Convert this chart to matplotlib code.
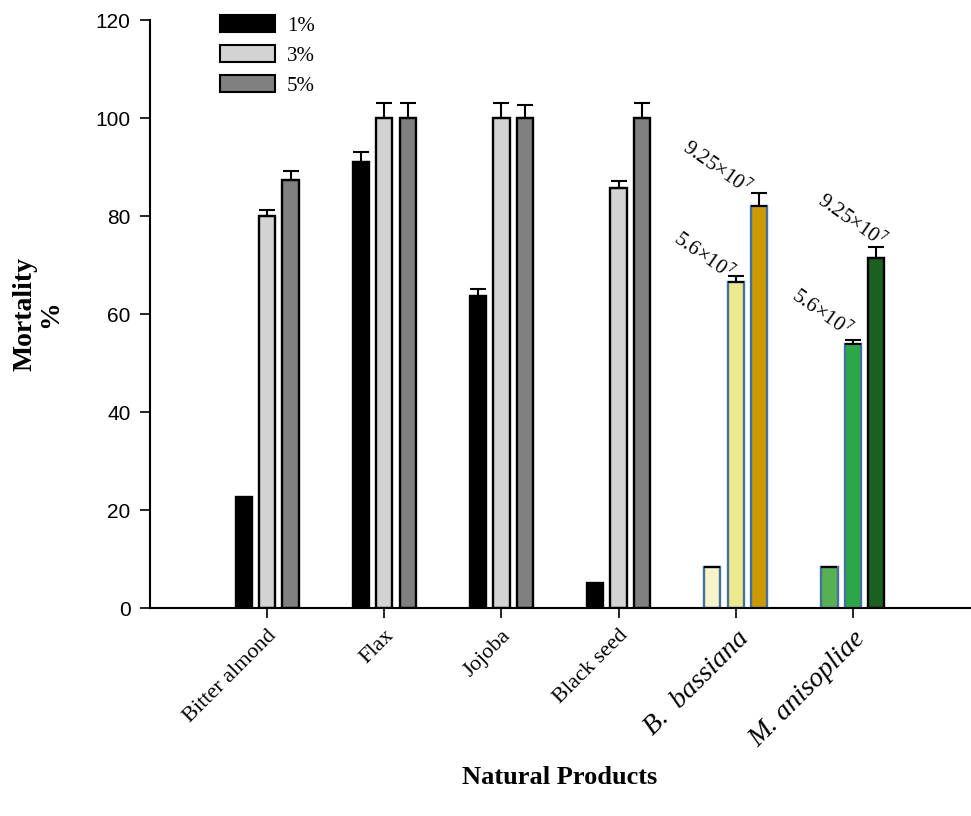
import matplotlib
matplotlib.use("Agg")
import matplotlib.pyplot as plt
import numpy as np
from matplotlib.patches import Patch

categories = ["Bitter almond", "Flax", "Jojoba", "Black seed", "B.  bassiana", "M. anisopliae"]
series_labels = ["1%", "3%", "5%"]
vals_1 = [22.6, 91.0, 63.7, 5.2, 8.3, 8.3]
vals_3 = [80.1, 100.0, 100.0, 85.7, 66.5, 53.9]
vals_5 = [87.4, 100.0, 100.0, 100.0, 82.0, 71.4]
err_1 = [np.nan, 2.0, 1.4, np.nan, 0.0, 0.0]
err_3 = [1.2, 3.0, 3.0, 1.4, 1.2, 0.8]
err_5 = [1.7, 3.0, 2.7, 3.0, 2.7, 2.3]
annot_text = ["5.6×10$^{7}$", "9.25×10$^{7}$"]

plt.rcParams['mathtext.fontset'] = 'stix'
serif = ['Liberation Serif', 'DejaVu Serif']

fig = plt.figure(figsize=(9.71, 8.16), dpi=100)
ax = fig.add_axes([150/971, 1-608/816, 820/971, 588/816])

x = np.arange(len(categories))
w = 0.14
off = 0.2

face_1 = ['black']*4 + ['#F6F3C9', '#57B152']
face_3 = ['#D3D3D3']*4 + ['#EDE98F', '#2BA845']
face_5 = ['#808080']*4 + ['#CC9900', '#1A6021']
edge_1 = ['black']*4 + ['#41719C', '#41719C']
edge_3 = ['black']*4 + ['#41719C', '#41719C']
edge_5 = ['black']*4 + ['#41719C', 'black']

series = [(vals_1, err_1, face_1, edge_1, -off),
          (vals_3, err_3, face_3, edge_3, 0.0),
          (vals_5, err_5, face_5, edge_5, off)]

for i, (vals, errs, faces, edges, o) in enumerate(series):
    ax.bar(x + o, vals, width=w, color=faces, edgecolor=edges, linewidth=1.7, zorder=2)
    for xi, v, e in zip(x, vals, errs):
        if not np.isnan(e):
            ax.errorbar(xi + o, v, yerr=[[0], [e]], fmt='none', ecolor='black',
                        elinewidth=1.5, capsize=5.5, capthick=1.5, zorder=3)

handles = [Patch(facecolor='black', edgecolor='black', linewidth=1.5),
           Patch(facecolor='#D3D3D3', edgecolor='black', linewidth=1.5),
           Patch(facecolor='#808080', edgecolor='black', linewidth=1.5)]
fig.legend(handles, series_labels, loc='upper left', bbox_to_anchor=(212/971, 1-7/816),
           frameon=False, prop={'family': serif, 'size': 15}, handlelength=2.6,
           handleheight=0.85, labelspacing=0.45, handletextpad=0.6, borderaxespad=0)

for ci in [4, 5]:
    for vals, errs, o, txt, (dx, dy) in [(vals_3, err_3, 0.0, annot_text[0], (-32, 20) if ci == 4 else (-32, 27)),
                                         (vals_5, err_5, off, annot_text[1], (-43, 25) if ci == 4 else (-25, 26))]:
        ax.annotate(txt, xy=(x[ci] + o, vals[ci] + errs[ci]), xytext=(dx, dy),
                    textcoords='offset pixels', ha='center', va='center', rotation=-35,
                    rotation_mode='anchor', fontsize=15, family=serif)

ax.set_xlim(-1, 6.0)
ax.set_ylim(0, 120)
ax.set_yticks([0, 20, 40, 60, 80, 100, 120])
ax.tick_params(axis='y', labelsize=15, length=7, width=1.2, direction='out', pad=7)
for lab in ax.get_yticklabels():
    lab.set_family(['Liberation Sans', 'DejaVu Sans'])
ax.set_xticks(x)
ax.set_xticklabels(categories)
ax.tick_params(axis='x', length=7, width=1.2, direction='out', pad=6)
for i, lab in enumerate(ax.get_xticklabels()):
    lab.set_family(serif)
    lab.set_rotation(45)
    lab.set_ha('right')
    lab.set_rotation_mode('anchor')
    if i >= 4:
        lab.set_fontsize(20)
        lab.set_style('italic')
    else:
        lab.set_fontsize(16)

for s in ['top', 'right']:
    ax.spines[s].set_visible(False)
for s in ['left', 'bottom']:
    ax.spines[s].set_linewidth(1.5)

fig.text(38/971, 1-314/816, "Mortality\n%", family=serif, fontsize=20, fontweight='bold',
         rotation=90, ha='center', va='center', linespacing=1.0, multialignment='center')
fig.text(560/971, 1-777/816, "Natural Products", family=serif, fontsize=19, fontweight='bold',
         ha='center', va='center')

fig.savefig("out.png", dpi=100)
